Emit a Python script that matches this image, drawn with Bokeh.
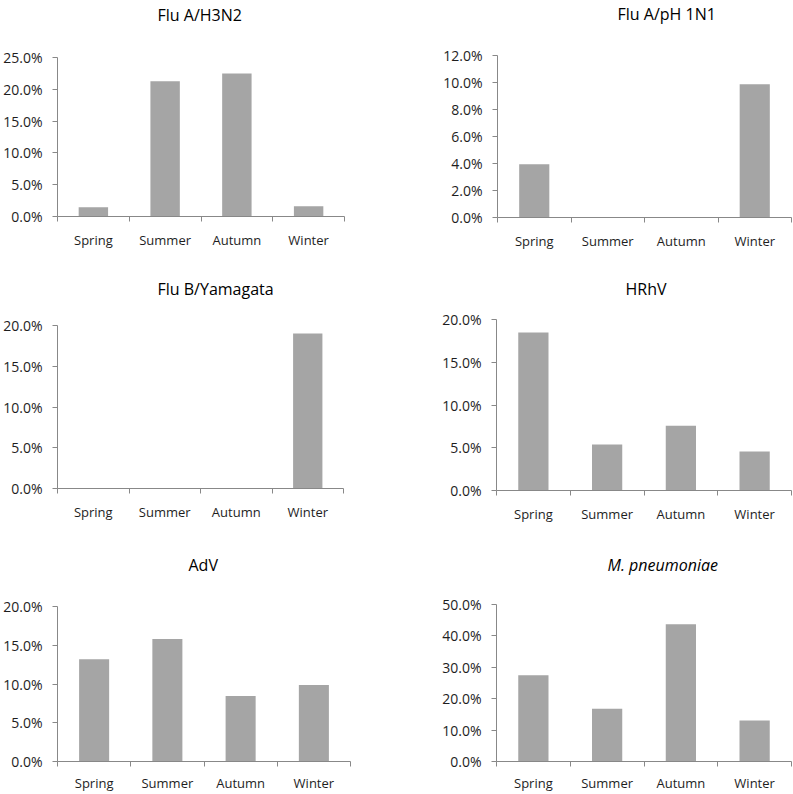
from bokeh.plotting import figure
from bokeh.layouts import column, row
from bokeh.models import Range1d, FixedTicker, PrintfTickFormatter, ColumnDataSource, Title
from bokeh.embed import file_html
from bokeh.resources import INLINE

# ---- data ----
seasons = ["Spring", "Summer", "Autumn", "Winter"]
flu_a_h3n2 = [1.47, 21.27, 22.5, 1.63]
flu_a_ph1n1 = [3.95, 0.0, 0.0, 9.87]
flu_b_yamagata = [0.0, 0.0, 0.0, 19.02]
hrhv = [18.48, 5.38, 7.56, 4.56]
adv = [13.18, 15.82, 8.45, 9.87]
m_pneumoniae = [27.45, 16.8, 43.7, 13.05]

titles = ["Flu A/H3N2", "Flu A/pH 1N1", "Flu B/Yamagata", "HRhV", "AdV", "M. pneumoniae"]
series = [flu_a_h3n2, flu_a_ph1n1, flu_b_yamagata, hrhv, adv, m_pneumoniae]
y_max = [25, 12, 20, 20, 20, 50]
y_step = [5, 2, 5, 5, 5, 10]

# ---- layout / style (per panel) ----
# width, height, border left, right, top, bottom,
# title offset (from frame left), title spacer standoff, x label standoff
geom = [
    (400, 262, 57, 56, 57, 46, 100, 29, 9),
    (393, 262, 97, 2, 54, 45, 120, 28, 9),
    (400, 268, 57, 57, 63, 42, 100, 23, 9),
    (393, 268, 96, 2, 57, 40, 129, 17, 9),
    (400, 264, 57, 50, 76, 33, 131, 28, 7),
    (393, 264, 96, 2, 74, 33, 111, 26, 7),
]

FONT = "Open Sans"
BAR = "#A5A5A5"
AXIS = "#888888"
TEXT = "#1E1E1E"


def make_panel(i):
    w, h, bl, br, bt, bb, toff, tspace, xstand = geom[i]
    vals = series[i]
    n = len(seasons)
    centers = [k + 0.5 for k in range(n)]
    src = ColumnDataSource(dict(x=centers, top=vals, season=seasons))
    p = figure(width=w, height=h, output_backend="svg", toolbar_location=None,
               x_range=Range1d(0, n), y_range=Range1d(0, y_max[i]),
               min_border_left=bl, min_border_right=br,
               min_border_top=bt, min_border_bottom=bb,
               frame_align=False)
    p.vbar(x="x", top="top", width=0.41, source=src, fill_color=BAR, line_color=None)

    # spacer between frame and title, then the title itself
    p.add_layout(Title(text=" ", text_font_size="1px", standoff=tspace), "above")
    p.add_layout(Title(text=titles[i], align="left", offset=toff, standoff=0,
                       text_font=FONT, text_font_size="16px", text_color="#000000",
                       text_font_style="italic" if titles[i].startswith("M.") else "normal"),
                 "above")

    p.outline_line_color = None
    p.xgrid.visible = False
    p.ygrid.visible = False
    p.background_fill_color = "white"
    p.border_fill_color = "white"

    xa = p.xaxis[0]
    xa.ticker = FixedTicker(ticks=centers, minor_ticks=list(range(n + 1)))
    xa.major_label_overrides = {c: s for c, s in zip(centers, seasons)}
    xa.major_tick_out = 0
    xa.major_tick_in = 0
    xa.minor_tick_out = 5
    xa.minor_tick_in = 0
    xa.minor_tick_line_color = AXIS
    xa.axis_line_color = AXIS
    xa.major_label_standoff = xstand
    xa.major_label_text_font = FONT
    xa.major_label_text_font_size = "13px"
    xa.major_label_text_color = TEXT

    ya = p.yaxis[0]
    ya.ticker = FixedTicker(ticks=list(range(0, y_max[i] + 1, y_step[i])), minor_ticks=[])
    ya.formatter = PrintfTickFormatter(format="%.1f%%")
    ya.major_tick_out = 5
    ya.major_tick_in = 0
    ya.minor_tick_out = 0
    ya.minor_tick_in = 0
    ya.major_tick_line_color = AXIS
    ya.axis_line_color = AXIS
    ya.major_label_standoff = 10
    ya.major_label_text_font = FONT
    ya.major_label_text_font_size = "14px"
    ya.major_label_text_color = TEXT
    return p


panels = [make_panel(i) for i in range(6)]
layout = column(
    row(panels[0], panels[1], spacing=0),
    row(panels[2], panels[3], spacing=0),
    row(panels[4], panels[5], spacing=0),
    spacing=0,
)

open("out.html", "w").write(file_html(layout, INLINE))
